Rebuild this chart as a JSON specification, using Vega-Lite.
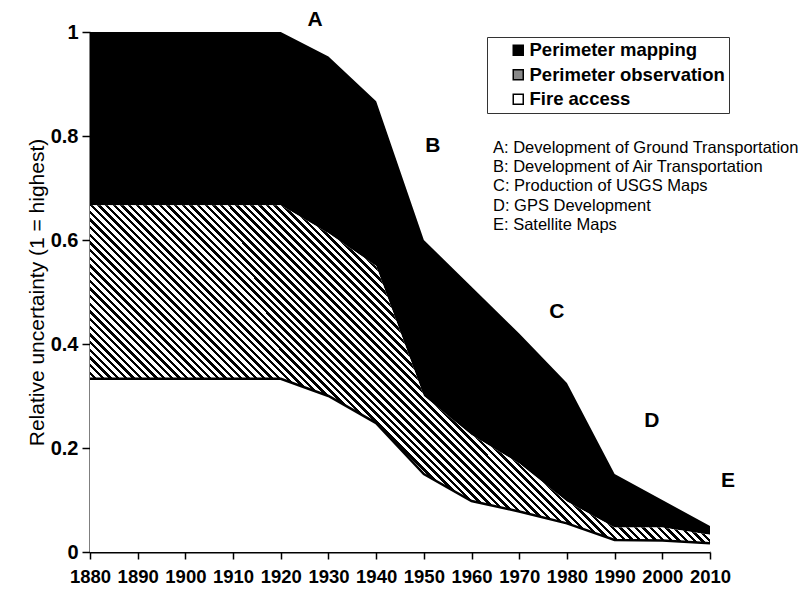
{
  "$schema": "https://vega.github.io/schema/vega-lite/v6.json",
  "width": 620,
  "height": 520,
  "autosize": {"type": "none"},
  "padding": {"left": 90, "top": 32, "right": 93, "bottom": 37},
  "background": "white",
  "config": {"view": {"stroke": null}, "font": "Liberation Sans"},
  "datasets": {
    "series": [
      {"year": 1880, "fire": 0.333, "observation": 0.667, "total": 1},
      {"year": 1890, "fire": 0.333, "observation": 0.667, "total": 1},
      {"year": 1900, "fire": 0.333, "observation": 0.667, "total": 1},
      {"year": 1910, "fire": 0.333, "observation": 0.667, "total": 1},
      {"year": 1920, "fire": 0.333, "observation": 0.667, "total": 1},
      {"year": 1930, "fire": 0.3, "observation": 0.613, "total": 0.953},
      {"year": 1940, "fire": 0.248, "observation": 0.55, "total": 0.867},
      {"year": 1950, "fire": 0.15, "observation": 0.3, "total": 0.6},
      {"year": 1960, "fire": 0.098, "observation": 0.225, "total": 0.51},
      {"year": 1970, "fire": 0.078, "observation": 0.17, "total": 0.42},
      {"year": 1980, "fire": 0.055, "observation": 0.097, "total": 0.325},
      {"year": 1990, "fire": 0.023, "observation": 0.047, "total": 0.15},
      {"year": 2000, "fire": 0.022, "observation": 0.047, "total": 0.1},
      {"year": 2010, "fire": 0.017, "observation": 0.033, "total": 0.05}
    ],
    "letters": [
      {"letter": "A", "year": 1927.2, "v": 1.023},
      {"letter": "B", "year": 1951.9, "v": 0.781},
      {"letter": "C", "year": 1977.9, "v": 0.4615},
      {"letter": "D", "year": 1997.8, "v": 0.252},
      {"letter": "E", "year": 2013.8, "v": 0.1365}
    ],
    "notes": [
      {"note": "A: Development of Ground Transportation", "year": 1964.5, "v": 0.777},
      {"note": "B: Development of Air Transportation", "year": 1964.5, "v": 0.74},
      {"note": "C: Production of USGS Maps", "year": 1964.5, "v": 0.703},
      {"note": "D: GPS Development", "year": 1964.5, "v": 0.666},
      {"note": "E: Satellite Maps", "year": 1964.5, "v": 0.629}
    ]
  },
  "layer": [
    {
      "data": {"name": "series"},
      "mark": {"type": "area", "opacity": 1},
      "encoding": {
        "x": {
          "field": "year", "type": "quantitative",
          "scale": {"domain": [1880, 2010], "nice": false, "zero": false},
          "axis": {
            "title": null,
            "values": [1880, 1890, 1900, 1910, 1920, 1930, 1940, 1950, 1960, 1970, 1980, 1990, 2000, 2010],
            "format": "d",
            "grid": false,
            "domainColor": "#000", "domainWidth": 2,
            "tickColor": "#000", "tickWidth": 1.5, "tickSize": 7,
            "labelFont": "Liberation Sans", "labelFontWeight": "bold", "labelFontSize": 18.5,
            "labelColor": "#000", "labelPadding": 8,
            "labelOverlap": false, "labelFlush": false
          }
        },
        "y": {
          "field": "total", "type": "quantitative", "stack": null,
          "scale": {"domain": [0, 1], "nice": false},
          "axis": {
            "title": "Relative uncertainty (1 = highest)",
            "values": [0, 0.2, 0.4, 0.6, 0.8, 1],
            "format": "~g",
            "grid": false,
            "domainColor": "#000", "domainWidth": 2,
            "tickColor": "#000", "tickWidth": 1.5, "tickSize": 8,
            "labelFont": "Liberation Sans", "labelFontWeight": "bold", "labelFontSize": 20,
            "labelColor": "#000", "labelPadding": 4,
            "titleFont": "Liberation Sans", "titleFontWeight": "normal", "titleFontSize": 21,
            "titleColor": "#000", "titlePadding": 3
          }
        },
        "y2": {"field": "observation"},
        "fill": {
          "datum": "Perimeter mapping", "type": "nominal",
          "scale": {
            "domain": ["Perimeter mapping", "Perimeter observation", "Fire access"],
            "range": ["#000", "#888", "#fff"]
          },
          "legend": {
            "title": null,
            "orient": "none", "legendX": 397, "legendY": 5,
            "direction": "vertical",
            "padding": 4,
            "strokeColor": "#333", "fillColor": "#fff",
            "symbolType": "square", "symbolSize": 100,
            "symbolStrokeColor": "#000", "symbolStrokeWidth": 1.5, "symbolOpacity": 1,
            "symbolOffset": 18,
            "labelFont": "Liberation Sans", "labelFontWeight": "bold", "labelFontSize": 18.5,
            "labelColor": "#000", "labelOffset": 2, "rowPadding": 5.5, "labelLimit": 400,
            "labelExpr": "datum.label + '\u00a0\u00a0\u00a0\u00a0'",
            "encode": {"symbols": {"update": {
              "stroke": {"value": "#000"},
              "strokeWidth": {"value": 1.5},
              "fill": [
                {"test": "datum.value === 'Perimeter observation'", "value": {"gradient": "linear", "x1": 0, "y1": 1, "x2": 1, "y2": 0, "stops": [
                  {"offset": 0, "color": "#fff"}, {"offset": 0.1, "color": "#fff"},
                  {"offset": 0.1, "color": "#000"}, {"offset": 0.25, "color": "#000"},
                  {"offset": 0.25, "color": "#fff"}, {"offset": 0.43, "color": "#fff"},
                  {"offset": 0.43, "color": "#000"}, {"offset": 0.58, "color": "#000"},
                  {"offset": 0.58, "color": "#fff"}, {"offset": 0.76, "color": "#fff"},
                  {"offset": 0.76, "color": "#000"}, {"offset": 0.91, "color": "#000"},
                  {"offset": 0.91, "color": "#fff"}, {"offset": 1, "color": "#fff"}
                ]}},
                {"scale": "fill", "field": "value"}
              ]
            }}}
          }
        }
      }
    },
    {
      "data": {"name": "series"},
      "mark": {
        "type": "area", "opacity": 1,
        "fill": {"gradient": "linear", "x1": 0, "y1": 1, "x2": 1.191, "y2": 0.351, "stops": [
          {"offset": 0, "color": "#000"}, {"offset": 0.0036, "color": "#000"}, {"offset": 0.0036, "color": "#fff"}, {"offset": 0.008, "color": "#fff"},
          {"offset": 0.008, "color": "#000"}, {"offset": 0.0116, "color": "#000"}, {"offset": 0.0116, "color": "#fff"}, {"offset": 0.016, "color": "#fff"},
          {"offset": 0.016, "color": "#000"}, {"offset": 0.0196, "color": "#000"}, {"offset": 0.0196, "color": "#fff"}, {"offset": 0.024, "color": "#fff"},
          {"offset": 0.024, "color": "#000"}, {"offset": 0.0276, "color": "#000"}, {"offset": 0.0276, "color": "#fff"}, {"offset": 0.032, "color": "#fff"},
          {"offset": 0.032, "color": "#000"}, {"offset": 0.0356, "color": "#000"}, {"offset": 0.0356, "color": "#fff"}, {"offset": 0.04, "color": "#fff"},
          {"offset": 0.04, "color": "#000"}, {"offset": 0.0436, "color": "#000"}, {"offset": 0.0436, "color": "#fff"}, {"offset": 0.048, "color": "#fff"},
          {"offset": 0.048, "color": "#000"}, {"offset": 0.0516, "color": "#000"}, {"offset": 0.0516, "color": "#fff"}, {"offset": 0.056, "color": "#fff"},
          {"offset": 0.056, "color": "#000"}, {"offset": 0.0596, "color": "#000"}, {"offset": 0.0596, "color": "#fff"}, {"offset": 0.064, "color": "#fff"},
          {"offset": 0.064, "color": "#000"}, {"offset": 0.0676, "color": "#000"}, {"offset": 0.0676, "color": "#fff"}, {"offset": 0.072, "color": "#fff"},
          {"offset": 0.072, "color": "#000"}, {"offset": 0.0756, "color": "#000"}, {"offset": 0.0756, "color": "#fff"}, {"offset": 0.08, "color": "#fff"},
          {"offset": 0.08, "color": "#000"}, {"offset": 0.0836, "color": "#000"}, {"offset": 0.0836, "color": "#fff"}, {"offset": 0.088, "color": "#fff"},
          {"offset": 0.088, "color": "#000"}, {"offset": 0.0916, "color": "#000"}, {"offset": 0.0916, "color": "#fff"}, {"offset": 0.096, "color": "#fff"},
          {"offset": 0.096, "color": "#000"}, {"offset": 0.0996, "color": "#000"}, {"offset": 0.0996, "color": "#fff"}, {"offset": 0.104, "color": "#fff"},
          {"offset": 0.104, "color": "#000"}, {"offset": 0.1076, "color": "#000"}, {"offset": 0.1076, "color": "#fff"}, {"offset": 0.112, "color": "#fff"},
          {"offset": 0.112, "color": "#000"}, {"offset": 0.1156, "color": "#000"}, {"offset": 0.1156, "color": "#fff"}, {"offset": 0.12, "color": "#fff"},
          {"offset": 0.12, "color": "#000"}, {"offset": 0.1236, "color": "#000"}, {"offset": 0.1236, "color": "#fff"}, {"offset": 0.128, "color": "#fff"},
          {"offset": 0.128, "color": "#000"}, {"offset": 0.1316, "color": "#000"}, {"offset": 0.1316, "color": "#fff"}, {"offset": 0.136, "color": "#fff"},
          {"offset": 0.136, "color": "#000"}, {"offset": 0.1396, "color": "#000"}, {"offset": 0.1396, "color": "#fff"}, {"offset": 0.144, "color": "#fff"},
          {"offset": 0.144, "color": "#000"}, {"offset": 0.1476, "color": "#000"}, {"offset": 0.1476, "color": "#fff"}, {"offset": 0.152, "color": "#fff"},
          {"offset": 0.152, "color": "#000"}, {"offset": 0.1556, "color": "#000"}, {"offset": 0.1556, "color": "#fff"}, {"offset": 0.16, "color": "#fff"},
          {"offset": 0.16, "color": "#000"}, {"offset": 0.1636, "color": "#000"}, {"offset": 0.1636, "color": "#fff"}, {"offset": 0.168, "color": "#fff"},
          {"offset": 0.168, "color": "#000"}, {"offset": 0.1716, "color": "#000"}, {"offset": 0.1716, "color": "#fff"}, {"offset": 0.176, "color": "#fff"},
          {"offset": 0.176, "color": "#000"}, {"offset": 0.1796, "color": "#000"}, {"offset": 0.1796, "color": "#fff"}, {"offset": 0.184, "color": "#fff"},
          {"offset": 0.184, "color": "#000"}, {"offset": 0.1876, "color": "#000"}, {"offset": 0.1876, "color": "#fff"}, {"offset": 0.192, "color": "#fff"},
          {"offset": 0.192, "color": "#000"}, {"offset": 0.1956, "color": "#000"}, {"offset": 0.1956, "color": "#fff"}, {"offset": 0.2, "color": "#fff"},
          {"offset": 0.2, "color": "#000"}, {"offset": 0.2036, "color": "#000"}, {"offset": 0.2036, "color": "#fff"}, {"offset": 0.208, "color": "#fff"},
          {"offset": 0.208, "color": "#000"}, {"offset": 0.2116, "color": "#000"}, {"offset": 0.2116, "color": "#fff"}, {"offset": 0.216, "color": "#fff"},
          {"offset": 0.216, "color": "#000"}, {"offset": 0.2196, "color": "#000"}, {"offset": 0.2196, "color": "#fff"}, {"offset": 0.224, "color": "#fff"},
          {"offset": 0.224, "color": "#000"}, {"offset": 0.2276, "color": "#000"}, {"offset": 0.2276, "color": "#fff"}, {"offset": 0.232, "color": "#fff"},
          {"offset": 0.232, "color": "#000"}, {"offset": 0.2356, "color": "#000"}, {"offset": 0.2356, "color": "#fff"}, {"offset": 0.24, "color": "#fff"},
          {"offset": 0.24, "color": "#000"}, {"offset": 0.2436, "color": "#000"}, {"offset": 0.2436, "color": "#fff"}, {"offset": 0.248, "color": "#fff"},
          {"offset": 0.248, "color": "#000"}, {"offset": 0.2516, "color": "#000"}, {"offset": 0.2516, "color": "#fff"}, {"offset": 0.256, "color": "#fff"},
          {"offset": 0.256, "color": "#000"}, {"offset": 0.2596, "color": "#000"}, {"offset": 0.2596, "color": "#fff"}, {"offset": 0.264, "color": "#fff"},
          {"offset": 0.264, "color": "#000"}, {"offset": 0.2676, "color": "#000"}, {"offset": 0.2676, "color": "#fff"}, {"offset": 0.272, "color": "#fff"},
          {"offset": 0.272, "color": "#000"}, {"offset": 0.2756, "color": "#000"}, {"offset": 0.2756, "color": "#fff"}, {"offset": 0.28, "color": "#fff"},
          {"offset": 0.28, "color": "#000"}, {"offset": 0.2836, "color": "#000"}, {"offset": 0.2836, "color": "#fff"}, {"offset": 0.288, "color": "#fff"},
          {"offset": 0.288, "color": "#000"}, {"offset": 0.2916, "color": "#000"}, {"offset": 0.2916, "color": "#fff"}, {"offset": 0.296, "color": "#fff"},
          {"offset": 0.296, "color": "#000"}, {"offset": 0.2996, "color": "#000"}, {"offset": 0.2996, "color": "#fff"}, {"offset": 0.304, "color": "#fff"},
          {"offset": 0.304, "color": "#000"}, {"offset": 0.3076, "color": "#000"}, {"offset": 0.3076, "color": "#fff"}, {"offset": 0.312, "color": "#fff"},
          {"offset": 0.312, "color": "#000"}, {"offset": 0.3156, "color": "#000"}, {"offset": 0.3156, "color": "#fff"}, {"offset": 0.32, "color": "#fff"},
          {"offset": 0.32, "color": "#000"}, {"offset": 0.3236, "color": "#000"}, {"offset": 0.3236, "color": "#fff"}, {"offset": 0.328, "color": "#fff"},
          {"offset": 0.328, "color": "#000"}, {"offset": 0.3316, "color": "#000"}, {"offset": 0.3316, "color": "#fff"}, {"offset": 0.336, "color": "#fff"},
          {"offset": 0.336, "color": "#000"}, {"offset": 0.3396, "color": "#000"}, {"offset": 0.3396, "color": "#fff"}, {"offset": 0.344, "color": "#fff"},
          {"offset": 0.344, "color": "#000"}, {"offset": 0.3476, "color": "#000"}, {"offset": 0.3476, "color": "#fff"}, {"offset": 0.352, "color": "#fff"},
          {"offset": 0.352, "color": "#000"}, {"offset": 0.3556, "color": "#000"}, {"offset": 0.3556, "color": "#fff"}, {"offset": 0.36, "color": "#fff"},
          {"offset": 0.36, "color": "#000"}, {"offset": 0.3636, "color": "#000"}, {"offset": 0.3636, "color": "#fff"}, {"offset": 0.368, "color": "#fff"},
          {"offset": 0.368, "color": "#000"}, {"offset": 0.3716, "color": "#000"}, {"offset": 0.3716, "color": "#fff"}, {"offset": 0.376, "color": "#fff"},
          {"offset": 0.376, "color": "#000"}, {"offset": 0.3796, "color": "#000"}, {"offset": 0.3796, "color": "#fff"}, {"offset": 0.384, "color": "#fff"},
          {"offset": 0.384, "color": "#000"}, {"offset": 0.3876, "color": "#000"}, {"offset": 0.3876, "color": "#fff"}, {"offset": 0.392, "color": "#fff"},
          {"offset": 0.392, "color": "#000"}, {"offset": 0.3956, "color": "#000"}, {"offset": 0.3956, "color": "#fff"}, {"offset": 0.4, "color": "#fff"},
          {"offset": 0.4, "color": "#000"}, {"offset": 0.4036, "color": "#000"}, {"offset": 0.4036, "color": "#fff"}, {"offset": 0.408, "color": "#fff"},
          {"offset": 0.408, "color": "#000"}, {"offset": 0.4116, "color": "#000"}, {"offset": 0.4116, "color": "#fff"}, {"offset": 0.416, "color": "#fff"},
          {"offset": 0.416, "color": "#000"}, {"offset": 0.4196, "color": "#000"}, {"offset": 0.4196, "color": "#fff"}, {"offset": 0.424, "color": "#fff"},
          {"offset": 0.424, "color": "#000"}, {"offset": 0.4276, "color": "#000"}, {"offset": 0.4276, "color": "#fff"}, {"offset": 0.432, "color": "#fff"},
          {"offset": 0.432, "color": "#000"}, {"offset": 0.4356, "color": "#000"}, {"offset": 0.4356, "color": "#fff"}, {"offset": 0.44, "color": "#fff"},
          {"offset": 0.44, "color": "#000"}, {"offset": 0.4436, "color": "#000"}, {"offset": 0.4436, "color": "#fff"}, {"offset": 0.448, "color": "#fff"},
          {"offset": 0.448, "color": "#000"}, {"offset": 0.4516, "color": "#000"}, {"offset": 0.4516, "color": "#fff"}, {"offset": 0.456, "color": "#fff"},
          {"offset": 0.456, "color": "#000"}, {"offset": 0.4596, "color": "#000"}, {"offset": 0.4596, "color": "#fff"}, {"offset": 0.464, "color": "#fff"},
          {"offset": 0.464, "color": "#000"}, {"offset": 0.4676, "color": "#000"}, {"offset": 0.4676, "color": "#fff"}, {"offset": 0.472, "color": "#fff"},
          {"offset": 0.472, "color": "#000"}, {"offset": 0.4756, "color": "#000"}, {"offset": 0.4756, "color": "#fff"}, {"offset": 0.48, "color": "#fff"},
          {"offset": 0.48, "color": "#000"}, {"offset": 0.4836, "color": "#000"}, {"offset": 0.4836, "color": "#fff"}, {"offset": 0.488, "color": "#fff"},
          {"offset": 0.488, "color": "#000"}, {"offset": 0.4916, "color": "#000"}, {"offset": 0.4916, "color": "#fff"}, {"offset": 0.496, "color": "#fff"},
          {"offset": 0.496, "color": "#000"}, {"offset": 0.4996, "color": "#000"}, {"offset": 0.4996, "color": "#fff"}, {"offset": 0.504, "color": "#fff"},
          {"offset": 0.504, "color": "#000"}, {"offset": 0.5076, "color": "#000"}, {"offset": 0.5076, "color": "#fff"}, {"offset": 0.512, "color": "#fff"},
          {"offset": 0.512, "color": "#000"}, {"offset": 0.5156, "color": "#000"}, {"offset": 0.5156, "color": "#fff"}, {"offset": 0.52, "color": "#fff"},
          {"offset": 0.52, "color": "#000"}, {"offset": 0.5236, "color": "#000"}, {"offset": 0.5236, "color": "#fff"}, {"offset": 0.528, "color": "#fff"},
          {"offset": 0.528, "color": "#000"}, {"offset": 0.5316, "color": "#000"}, {"offset": 0.5316, "color": "#fff"}, {"offset": 0.536, "color": "#fff"},
          {"offset": 0.536, "color": "#000"}, {"offset": 0.5396, "color": "#000"}, {"offset": 0.5396, "color": "#fff"}, {"offset": 0.544, "color": "#fff"},
          {"offset": 0.544, "color": "#000"}, {"offset": 0.5476, "color": "#000"}, {"offset": 0.5476, "color": "#fff"}, {"offset": 0.552, "color": "#fff"},
          {"offset": 0.552, "color": "#000"}, {"offset": 0.5556, "color": "#000"}, {"offset": 0.5556, "color": "#fff"}, {"offset": 0.56, "color": "#fff"},
          {"offset": 0.56, "color": "#000"}, {"offset": 0.5636, "color": "#000"}, {"offset": 0.5636, "color": "#fff"}, {"offset": 0.568, "color": "#fff"},
          {"offset": 0.568, "color": "#000"}, {"offset": 0.5716, "color": "#000"}, {"offset": 0.5716, "color": "#fff"}, {"offset": 0.576, "color": "#fff"},
          {"offset": 0.576, "color": "#000"}, {"offset": 0.5796, "color": "#000"}, {"offset": 0.5796, "color": "#fff"}, {"offset": 0.584, "color": "#fff"},
          {"offset": 0.584, "color": "#000"}, {"offset": 0.5876, "color": "#000"}, {"offset": 0.5876, "color": "#fff"}, {"offset": 0.592, "color": "#fff"},
          {"offset": 0.592, "color": "#000"}, {"offset": 0.5956, "color": "#000"}, {"offset": 0.5956, "color": "#fff"}, {"offset": 0.6, "color": "#fff"},
          {"offset": 0.6, "color": "#000"}, {"offset": 0.6036, "color": "#000"}, {"offset": 0.6036, "color": "#fff"}, {"offset": 0.608, "color": "#fff"},
          {"offset": 0.608, "color": "#000"}, {"offset": 0.6116, "color": "#000"}, {"offset": 0.6116, "color": "#fff"}, {"offset": 0.616, "color": "#fff"},
          {"offset": 0.616, "color": "#000"}, {"offset": 0.6196, "color": "#000"}, {"offset": 0.6196, "color": "#fff"}, {"offset": 0.624, "color": "#fff"},
          {"offset": 0.624, "color": "#000"}, {"offset": 0.6276, "color": "#000"}, {"offset": 0.6276, "color": "#fff"}, {"offset": 0.632, "color": "#fff"},
          {"offset": 0.632, "color": "#000"}, {"offset": 0.6356, "color": "#000"}, {"offset": 0.6356, "color": "#fff"}, {"offset": 0.64, "color": "#fff"},
          {"offset": 0.64, "color": "#000"}, {"offset": 0.6436, "color": "#000"}, {"offset": 0.6436, "color": "#fff"}, {"offset": 0.648, "color": "#fff"},
          {"offset": 0.648, "color": "#000"}, {"offset": 0.6516, "color": "#000"}, {"offset": 0.6516, "color": "#fff"}, {"offset": 0.656, "color": "#fff"},
          {"offset": 0.656, "color": "#000"}, {"offset": 0.6596, "color": "#000"}, {"offset": 0.6596, "color": "#fff"}, {"offset": 0.664, "color": "#fff"},
          {"offset": 0.664, "color": "#000"}, {"offset": 0.6676, "color": "#000"}, {"offset": 0.6676, "color": "#fff"}, {"offset": 0.672, "color": "#fff"},
          {"offset": 0.672, "color": "#000"}, {"offset": 0.6756, "color": "#000"}, {"offset": 0.6756, "color": "#fff"}, {"offset": 0.68, "color": "#fff"},
          {"offset": 0.68, "color": "#000"}, {"offset": 0.6836, "color": "#000"}, {"offset": 0.6836, "color": "#fff"}, {"offset": 0.688, "color": "#fff"},
          {"offset": 0.688, "color": "#000"}, {"offset": 0.6916, "color": "#000"}, {"offset": 0.6916, "color": "#fff"}, {"offset": 0.696, "color": "#fff"},
          {"offset": 0.696, "color": "#000"}, {"offset": 0.6996, "color": "#000"}, {"offset": 0.6996, "color": "#fff"}, {"offset": 0.704, "color": "#fff"},
          {"offset": 0.704, "color": "#000"}, {"offset": 0.7076, "color": "#000"}, {"offset": 0.7076, "color": "#fff"}, {"offset": 0.712, "color": "#fff"},
          {"offset": 0.712, "color": "#000"}, {"offset": 0.7156, "color": "#000"}, {"offset": 0.7156, "color": "#fff"}, {"offset": 0.72, "color": "#fff"},
          {"offset": 0.72, "color": "#000"}, {"offset": 0.7236, "color": "#000"}, {"offset": 0.7236, "color": "#fff"}, {"offset": 0.728, "color": "#fff"},
          {"offset": 0.728, "color": "#000"}, {"offset": 0.7316, "color": "#000"}, {"offset": 0.7316, "color": "#fff"}, {"offset": 0.736, "color": "#fff"},
          {"offset": 0.736, "color": "#000"}, {"offset": 0.7396, "color": "#000"}, {"offset": 0.7396, "color": "#fff"}, {"offset": 0.744, "color": "#fff"},
          {"offset": 0.744, "color": "#000"}, {"offset": 0.7476, "color": "#000"}, {"offset": 0.7476, "color": "#fff"}, {"offset": 0.752, "color": "#fff"},
          {"offset": 0.752, "color": "#000"}, {"offset": 0.7556, "color": "#000"}, {"offset": 0.7556, "color": "#fff"}, {"offset": 0.76, "color": "#fff"},
          {"offset": 0.76, "color": "#000"}, {"offset": 0.7636, "color": "#000"}, {"offset": 0.7636, "color": "#fff"}, {"offset": 0.768, "color": "#fff"},
          {"offset": 0.768, "color": "#000"}, {"offset": 0.7716, "color": "#000"}, {"offset": 0.7716, "color": "#fff"}, {"offset": 0.776, "color": "#fff"},
          {"offset": 0.776, "color": "#000"}, {"offset": 0.7796, "color": "#000"}, {"offset": 0.7796, "color": "#fff"}, {"offset": 0.784, "color": "#fff"},
          {"offset": 0.784, "color": "#000"}, {"offset": 0.7876, "color": "#000"}, {"offset": 0.7876, "color": "#fff"}, {"offset": 0.792, "color": "#fff"},
          {"offset": 0.792, "color": "#000"}, {"offset": 0.7956, "color": "#000"}, {"offset": 0.7956, "color": "#fff"}, {"offset": 0.8, "color": "#fff"},
          {"offset": 0.8, "color": "#000"}, {"offset": 0.8036, "color": "#000"}, {"offset": 0.8036, "color": "#fff"}, {"offset": 0.808, "color": "#fff"},
          {"offset": 0.808, "color": "#000"}, {"offset": 0.8116, "color": "#000"}, {"offset": 0.8116, "color": "#fff"}, {"offset": 0.816, "color": "#fff"},
          {"offset": 0.816, "color": "#000"}, {"offset": 0.8196, "color": "#000"}, {"offset": 0.8196, "color": "#fff"}, {"offset": 0.824, "color": "#fff"},
          {"offset": 0.824, "color": "#000"}, {"offset": 0.8276, "color": "#000"}, {"offset": 0.8276, "color": "#fff"}, {"offset": 0.832, "color": "#fff"},
          {"offset": 0.832, "color": "#000"}, {"offset": 0.8356, "color": "#000"}, {"offset": 0.8356, "color": "#fff"}, {"offset": 0.84, "color": "#fff"},
          {"offset": 0.84, "color": "#000"}, {"offset": 0.8436, "color": "#000"}, {"offset": 0.8436, "color": "#fff"}, {"offset": 0.848, "color": "#fff"},
          {"offset": 0.848, "color": "#000"}, {"offset": 0.8516, "color": "#000"}, {"offset": 0.8516, "color": "#fff"}, {"offset": 0.856, "color": "#fff"},
          {"offset": 0.856, "color": "#000"}, {"offset": 0.8596, "color": "#000"}, {"offset": 0.8596, "color": "#fff"}, {"offset": 0.864, "color": "#fff"},
          {"offset": 0.864, "color": "#000"}, {"offset": 0.8676, "color": "#000"}, {"offset": 0.8676, "color": "#fff"}, {"offset": 0.872, "color": "#fff"},
          {"offset": 0.872, "color": "#000"}, {"offset": 0.8756, "color": "#000"}, {"offset": 0.8756, "color": "#fff"}, {"offset": 0.88, "color": "#fff"},
          {"offset": 0.88, "color": "#000"}, {"offset": 0.8836, "color": "#000"}, {"offset": 0.8836, "color": "#fff"}, {"offset": 0.888, "color": "#fff"},
          {"offset": 0.888, "color": "#000"}, {"offset": 0.8916, "color": "#000"}, {"offset": 0.8916, "color": "#fff"}, {"offset": 0.896, "color": "#fff"},
          {"offset": 0.896, "color": "#000"}, {"offset": 0.8996, "color": "#000"}, {"offset": 0.8996, "color": "#fff"}, {"offset": 0.904, "color": "#fff"},
          {"offset": 0.904, "color": "#000"}, {"offset": 0.9076, "color": "#000"}, {"offset": 0.9076, "color": "#fff"}, {"offset": 0.912, "color": "#fff"},
          {"offset": 0.912, "color": "#000"}, {"offset": 0.9156, "color": "#000"}, {"offset": 0.9156, "color": "#fff"}, {"offset": 0.92, "color": "#fff"},
          {"offset": 0.92, "color": "#000"}, {"offset": 0.9236, "color": "#000"}, {"offset": 0.9236, "color": "#fff"}, {"offset": 0.928, "color": "#fff"},
          {"offset": 0.928, "color": "#000"}, {"offset": 0.9316, "color": "#000"}, {"offset": 0.9316, "color": "#fff"}, {"offset": 0.936, "color": "#fff"},
          {"offset": 0.936, "color": "#000"}, {"offset": 0.9396, "color": "#000"}, {"offset": 0.9396, "color": "#fff"}, {"offset": 0.944, "color": "#fff"},
          {"offset": 0.944, "color": "#000"}, {"offset": 0.9476, "color": "#000"}, {"offset": 0.9476, "color": "#fff"}, {"offset": 0.952, "color": "#fff"},
          {"offset": 0.952, "color": "#000"}, {"offset": 0.9556, "color": "#000"}, {"offset": 0.9556, "color": "#fff"}, {"offset": 0.96, "color": "#fff"},
          {"offset": 0.96, "color": "#000"}, {"offset": 0.9636, "color": "#000"}, {"offset": 0.9636, "color": "#fff"}, {"offset": 0.968, "color": "#fff"},
          {"offset": 0.968, "color": "#000"}, {"offset": 0.9716, "color": "#000"}, {"offset": 0.9716, "color": "#fff"}, {"offset": 0.976, "color": "#fff"},
          {"offset": 0.976, "color": "#000"}, {"offset": 0.9796, "color": "#000"}, {"offset": 0.9796, "color": "#fff"}, {"offset": 0.984, "color": "#fff"},
          {"offset": 0.984, "color": "#000"}, {"offset": 0.9876, "color": "#000"}, {"offset": 0.9876, "color": "#fff"}, {"offset": 0.992, "color": "#fff"},
          {"offset": 0.992, "color": "#000"}, {"offset": 0.9956, "color": "#000"}, {"offset": 0.9956, "color": "#fff"}, {"offset": 1, "color": "#fff"}
        ]}
      },
      "encoding": {
        "x": {"field": "year", "type": "quantitative"},
        "y": {"field": "observation", "type": "quantitative", "stack": null},
        "y2": {"field": "fire"}
      }
    },
    {
      "data": {"name": "series"},
      "mark": {"type": "area", "opacity": 1},
      "encoding": {
        "x": {"field": "year", "type": "quantitative"},
        "y": {"field": "fire", "type": "quantitative", "stack": null},
        "y2": {"datum": 0},
        "fill": {"datum": "Fire access", "type": "nominal"}
      }
    },
    {
      "data": {"name": "series"},
      "mark": {"type": "line", "color": "#000", "strokeWidth": 2.5},
      "encoding": {
        "x": {"field": "year", "type": "quantitative"},
        "y": {"field": "fire", "type": "quantitative"}
      }
    },
    {
      "data": {"name": "letters"},
      "mark": {"type": "text", "font": "Liberation Sans", "fontWeight": "bold", "fontSize": 21, "align": "center", "baseline": "middle", "color": "#000"},
      "encoding": {
        "x": {"field": "year", "type": "quantitative"},
        "y": {"field": "v", "type": "quantitative"},
        "text": {"field": "letter"}
      }
    },
    {
      "data": {"name": "notes"},
      "mark": {"type": "text", "font": "Liberation Sans", "fontSize": 16.5, "align": "left", "baseline": "middle", "color": "#000"},
      "encoding": {
        "x": {"field": "year", "type": "quantitative"},
        "y": {"field": "v", "type": "quantitative"},
        "text": {"field": "note"}
      }
    }
  ]
}
